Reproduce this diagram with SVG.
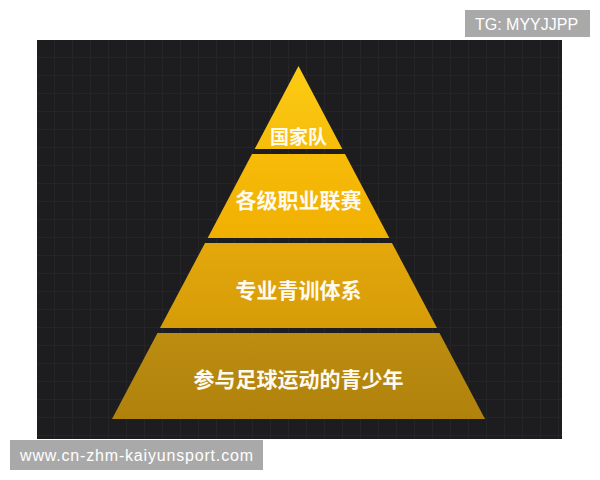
<svg xmlns="http://www.w3.org/2000/svg" width="600" height="480" viewBox="0 0 600 480">
<defs>
<pattern id="grid" width="18" height="18" patternUnits="userSpaceOnUse" x="37" y="40">
<path d="M0 17.5H18M17.5 0V18" fill="none" stroke="#252528" stroke-width="1"/>
</pattern>
<linearGradient id="g1" x1="0" y1="0" x2="0" y2="1"><stop offset="0" stop-color="#fccb14"/><stop offset="1" stop-color="#f6bd0a"/></linearGradient>
<linearGradient id="g2" x1="0" y1="0" x2="0" y2="1"><stop offset="0" stop-color="#f7bb08"/><stop offset="1" stop-color="#f0b002"/></linearGradient>
<linearGradient id="g3" x1="0" y1="0" x2="0" y2="1"><stop offset="0" stop-color="#e4a80c"/><stop offset="1" stop-color="#d69c08"/></linearGradient>
<linearGradient id="g4" x1="0" y1="0" x2="0" y2="1"><stop offset="0" stop-color="#bc8d10"/><stop offset="1" stop-color="#b0820c"/></linearGradient>
</defs>
<style>
.lbl{font-family:"Noto Sans CJK SC","Noto Sans CJK JP",sans-serif;font-weight:bold;fill:#fffaf0;text-anchor:middle;dominant-baseline:central}
.wm{font-family:"Liberation Sans",Arial,sans-serif;fill:#ffffff;dominant-baseline:central}
</style>
<rect width="600" height="480" fill="#ffffff"/>
<rect x="37" y="40" width="525" height="399" fill="#1d1d1f"/>
<rect x="37" y="40" width="525" height="399" fill="url(#grid)"/>
<g id="tier1">
<polygon points="298.5,66 342.3,149 254.7,149" fill="url(#g1)"/>
<text class="lbl" x="298.5" y="135" font-size="19">国家队</text>
</g>
<g id="tier2">
<polygon points="252,154 345,154 389.3,238 207.7,238" fill="url(#g2)"/>
<text class="lbl" x="298.5" y="199" font-size="21">各级职业联赛</text>
</g>
<g id="tier3">
<polygon points="205,243 392,243 437,328 160,328" fill="url(#g3)"/>
<text class="lbl" x="298.5" y="289" font-size="21">专业青训体系</text>
</g>
<g id="tier4">
<polygon points="157.5,333 439.5,333 485,419 112,419" fill="url(#g4)"/>
<text class="lbl" x="298.5" y="378" font-size="21">参与足球运动的青少年</text>
</g>
<g id="connectors"></g>
<g id="watermark-top">
<rect x="465" y="10" width="125" height="27" fill="#a9a9a9"/>
<text class="wm" x="475" y="24" font-size="16">TG: MYYJJPP</text>
</g>
<g id="watermark-bottom">
<rect x="10" y="440" width="253" height="30" fill="#a9a9a9"/>
<text class="wm" x="20" y="455" font-size="16" textLength="233">www.cn-zhm-kaiyunsport.com</text>
</g>
</svg>
